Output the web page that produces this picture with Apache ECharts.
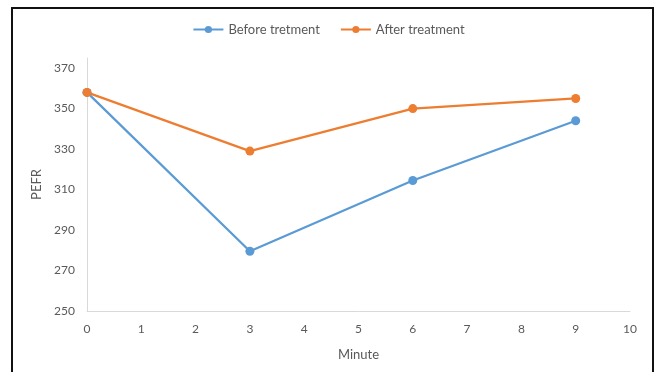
<!DOCTYPE html>
<html><head><meta charset="utf-8">
<script src="https://cdn.jsdelivr.net/npm/echarts@6/dist/echarts.min.js"></script>
<style>html,body{margin:0;padding:0;background:#fff}#c{width:657px;height:372px}</style>
</head><body><div id="c"></div>
<script>
const minutes = [0, 3, 6, 9];
const beforeValues = [358, 279.5, 314.5, 344];
const afterValues = [358, 329, 350, 355];
const seriesNames = ['Before tretment', 'After treatment'];

const chart = echarts.init(document.getElementById('c'));
const font = 'Lato, "Open Sans", sans-serif';
chart.setOption({
  animation: false,
  textStyle: {fontFamily: font},
  graphic: [{type: 'rect', shape: {x: 12, y: 8, width: 641, height: 380}, style: {fill: 'none', stroke: '#111', lineWidth: 2}, z: 100}],
  legend: {
    top: 18, left: 'center', itemWidth: 30, itemHeight: 9, itemGap: 20,
    textStyle: {color: '#595959', fontSize: 13, fontFamily: font},
    data: seriesNames
  },
  grid: {left: 87, right: 27, top: 58, bottom: 61},
  xAxis: {
    type: 'value', min: 0, max: 10, interval: 1,
    name: 'Minute', nameLocation: 'middle', nameGap: 37,
    nameTextStyle: {color: '#595959', fontSize: 13, fontFamily: font},
    axisLine: {lineStyle: {color: '#d9d9d9'}},
    axisTick: {show: false}, splitLine: {show: false},
    axisLabel: {color: '#595959', fontSize: 12, margin: 12, fontFamily: font}
  },
  yAxis: {
    type: 'value', min: 250, max: 375, interval: 20,
    name: 'PEFR', nameLocation: 'middle', nameGap: 42,
    nameTextStyle: {color: '#595959', fontSize: 13, fontFamily: font},
    axisLine: {show: true, lineStyle: {color: '#d9d9d9'}},
    axisTick: {show: false}, splitLine: {show: false},
    axisLabel: {color: '#595959', fontSize: 12, margin: 12, showMaxLabel: false, fontFamily: font}
  },
  series: [
    {name: seriesNames[0], type: 'line', data: minutes.map((m, i) => [m, beforeValues[i]]),
     symbol: 'circle', symbolSize: 9, lineStyle: {width: 2.25, color: '#5B9BD5'}, itemStyle: {color: '#5B9BD5'}},
    {name: seriesNames[1], type: 'line', data: minutes.map((m, i) => [m, afterValues[i]]),
     symbol: 'circle', symbolSize: 9, lineStyle: {width: 2.25, color: '#ED7D31'}, itemStyle: {color: '#ED7D31'}}
  ]
});
</script></body></html>
